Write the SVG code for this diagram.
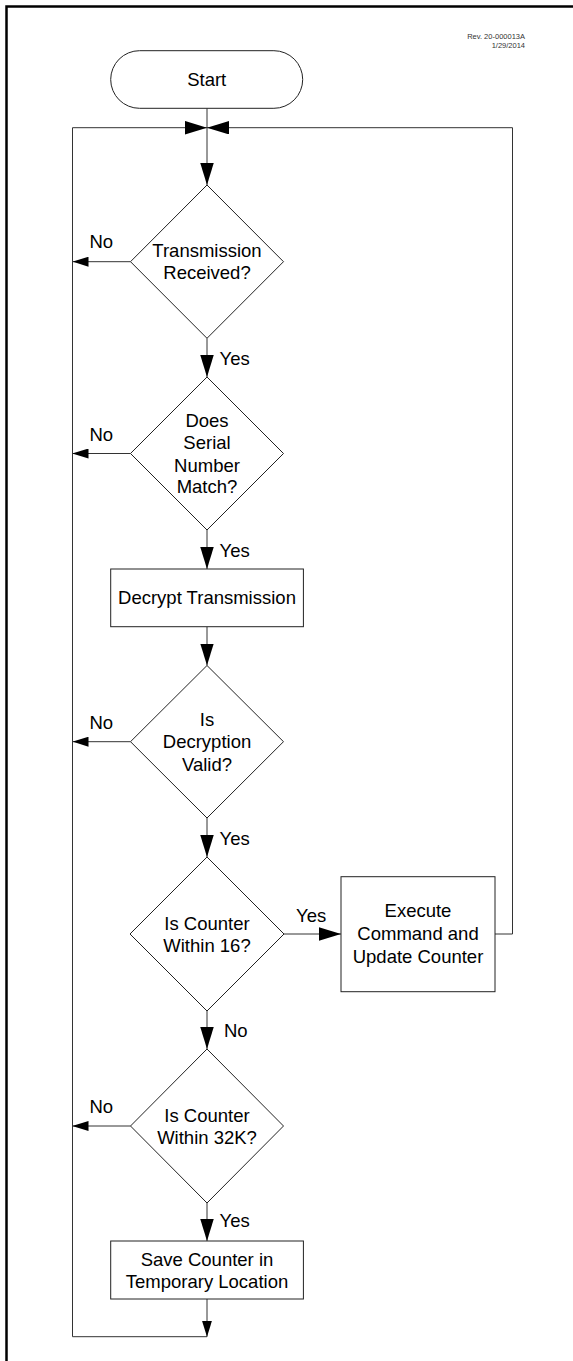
<svg xmlns="http://www.w3.org/2000/svg" width="573" height="1361" viewBox="0 0 573 1361">
<style>
  text { font-family: "Liberation Sans", Arial, sans-serif; font-size: 18.5px; fill: #000; }
  .c { text-anchor: middle; }
  .rev { font-size: 7.5px; fill: #333; text-anchor: end; }
  .shape { fill: #fff; stroke: #222; stroke-width: 1; }
  .conn { fill: none; stroke: #333; stroke-width: 1; }
  .big { marker-end: url(#big); }
  .small { marker-end: url(#small); }
</style>
<defs>
  <marker id="big" markerUnits="userSpaceOnUse" markerWidth="22" markerHeight="14" refX="22" refY="6.75" orient="auto">
    <path d="M0,0 L22,6.75 L0,13.5 z" fill="#000"/>
  </marker>
  <marker id="small" markerUnits="userSpaceOnUse" markerWidth="16" markerHeight="10" refX="16" refY="5" orient="auto">
    <path d="M0,0 L16,5 L0,10 z" fill="#000"/>
  </marker>
</defs>
<rect x="0" y="0" width="573" height="1361" fill="#fff"/>
<rect id="frame" x="6.5" y="6.5" width="580" height="1380" fill="none" stroke="#000" stroke-width="2.5"/>
<g id="rev">
  <text class="rev" x="525" y="38.5">Rev. 20-000013A</text>
  <text class="rev" x="525" y="47.5">1/29/2014</text>
</g>
<g id="connectors">
  <path class="conn big" d="M207,108.3 L207,185"/>
  <path class="conn big" d="M207,1336.7 L72.5,1336.7 L72.5,127.7 L207,127.7"/>
  <path class="conn big" d="M495,934 L512.5,934 L512.5,127.7 L207,127.7"/>
  <path class="conn small" d="M130.5,261.7 L72.5,261.7"/>
  <path class="conn big" d="M207,338.3 L207,377"/>
  <path class="conn small" d="M130.5,453.5 L72.5,453.5"/>
  <path class="conn big" d="M207,530 L207,569"/>
  <path class="conn big" d="M207,626.7 L207,665.5"/>
  <path class="conn small" d="M130.5,741.7 L72.5,741.7"/>
  <path class="conn big" d="M207,818 L207,857"/>
  <path class="conn big" d="M284,934 L341,934"/>
  <path class="conn big" d="M207,1011 L207,1049"/>
  <path class="conn small" d="M130.5,1126 L72.5,1126"/>
  <path class="conn big" d="M207,1203 L207,1241"/>
  <path class="conn small" d="M207,1299 L207,1336.7"/>
  <text x="89.5" y="248">No</text>
  <text x="219.5" y="364.8">Yes</text>
  <text x="89.5" y="440.5">No</text>
  <text x="219.5" y="556.5">Yes</text>
  <text x="89.5" y="729">No</text>
  <text x="219.5" y="844.8">Yes</text>
  <text x="296" y="921.5">Yes</text>
  <text x="224" y="1036.5">No</text>
  <text x="89.5" y="1113">No</text>
  <text x="219.5" y="1226.5">Yes</text>
</g>
<g id="start">
  <rect class="shape" x="110.7" y="50.7" width="192" height="57.6" rx="28.8" ry="28.8"/>
  <text class="c" x="206.7" y="86">Start</text>
</g>
<g id="d1">
  <polygon class="shape" points="207,185 283.5,261.7 207,338.3 130.5,261.7"/>
  <text class="c" x="207" y="256.5">Transmission</text>
  <text class="c" x="207" y="279.2">Received?</text>
</g>
<g id="d2">
  <polygon class="shape" points="207,377 283.5,453.5 207,530 130.5,453.5"/>
  <text class="c" x="207" y="426.5">Does</text>
  <text class="c" x="207" y="448.8">Serial</text>
  <text class="c" x="207" y="471.5">Number</text>
  <text class="c" x="207" y="493.2">Match?</text>
</g>
<g id="decrypt">
  <rect class="shape" x="110.7" y="569" width="192.7" height="57.7"/>
  <text class="c" x="207" y="604.2">Decrypt Transmission</text>
</g>
<g id="d3">
  <polygon class="shape" points="207,665.5 283.5,741.7 207,818 130.5,741.7"/>
  <text class="c" x="207" y="725.8">Is</text>
  <text class="c" x="207" y="748.2">Decryption</text>
  <text class="c" x="207" y="770.5">Valid?</text>
</g>
<g id="d4">
  <polygon class="shape" points="207,857 284,934 207,1011 130,934"/>
  <text class="c" x="207" y="929.8">Is Counter</text>
  <text class="c" x="207" y="951.5">Within 16?</text>
</g>
<g id="execute">
  <rect class="shape" x="341" y="876.7" width="154" height="115"/>
  <text class="c" x="418" y="917.2">Execute</text>
  <text class="c" x="418" y="939.8">Command and</text>
  <text class="c" x="418" y="962.5">Update Counter</text>
</g>
<g id="d5">
  <polygon class="shape" points="207,1049 283.5,1126 207,1203 130.5,1126"/>
  <text class="c" x="207" y="1121.5">Is Counter</text>
  <text class="c" x="207" y="1143.8">Within 32K?</text>
</g>
<g id="save">
  <rect class="shape" x="110.7" y="1241" width="192.7" height="58"/>
  <text class="c" x="207" y="1265.8">Save Counter in</text>
  <text class="c" x="207" y="1287.5">Temporary Location</text>
</g>
</svg>
